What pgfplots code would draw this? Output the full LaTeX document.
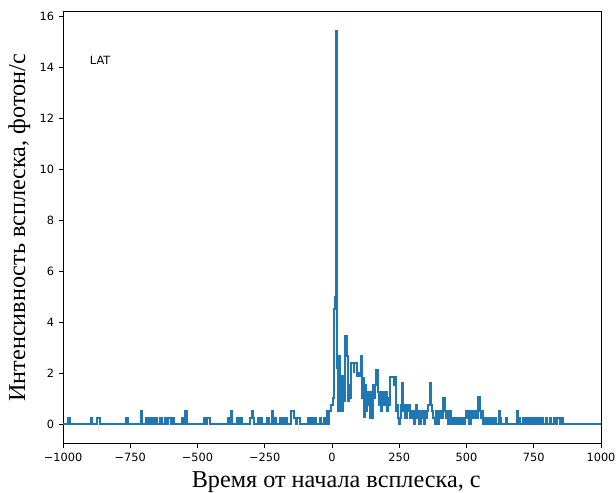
\documentclass[border=0pt]{standalone}
\usepackage{pgfplots}
\pgfplotsset{compat=1.18}
\usepackage{fontspec}
\setmainfont{Liberation Serif}
\newfontfamily\dejavu{DejaVu Sans}
\usetikzlibrary{calc}
\definecolor{tabblue}{HTML}{1F77B4}
\begin{document}
\begin{tikzpicture}
\begin{axis}[
  scale only axis, width=387.4bp, height=311bp,
  xmin=-1000, xmax=1000, ymin=-0.77, ymax=16.17,
  axis line style={line width=0.63bp},
  tick align=outside, major tick length=2.9bp,
  every tick/.style={black, line width=0.63bp},
  xtick={-1000,-750,-500,-250,0,250,500,750,1000},
  xticklabels={−1000,−750,−500,−250,0,250,500,750,1000},
  ytick={0,2,4,6,8,10,12,14,16},
  xtick pos=bottom, ytick pos=left,
  ticklabel style={font=\dejavu\fontsize{8.2}{9.8}\selectfont},
  /pgf/number format/assume math mode=true,
  xlabel={Время от начала всплеска, с},
  ylabel={Интенсивность всплеска, фотон/с},
  label style={font=\fontsize{17.5}{21}\selectfont},
  xlabel style={at={(axis description cs:0.5,0)}, anchor=base, yshift=-31.7bp, xshift=3bp},
  ylabel style={at={(axis description cs:-0.0707,0.5)}, anchor=base, rotate=0},
]
\addplot[const plot, color=tabblue, line width=1.45bp] coordinates {
(-1000,0) (-980,0.26) (-976,0) (-896,0.26) (-892,0) (-872,0.26) (-864,0) (-766,0.26) (-758,0)
(-712,0.51) (-708,0) (-693,0.26) (-689,0) (-682,0.26) (-674,0) (-666,0.26) (-662,0) (-655,0.26) (-651,0)
(-640,0.26) (-632,0) (-622,0.26) (-614,0) (-608,0.26) (-600,0) (-592,0.26) (-586,0) (-556,0.26) (-552,0)
(-545,0.51) (-541,0) (-476,0.26) (-468,0) (-464,0.26) (-454,0)
(-388,0.26) (-384,0) (-376,0.51) (-372,0) (-354,0.26) (-346,0) (-342,0.26) (-336,0) (-306,0.26) (-298,0.51)
(-294,0.26) (-290,0) (-276,0.26) (-272,0) (-268,0.26) (-260,0) (-243,0.26) (-235,0) (-224,0.51) (-220,0)
(-213,0.26) (-209,0) (-194,0.26) (-186,0) (-180,0.26) (-176,0) (-172,0.26) (-166,0) (-153,0.51) (-142,0.26)
(-134,0) (-130,0.26) (-120,0) (-90,0.26) (-82,0) (-78,0.26) (-72,0) (-64,0.26) (-60,0) (-44,0.26) (-40,0)
(-30,0.26) (-26,0)
(-20,0.51) (-16,0) (-12,0.51) (-2,0.77) (2,1.03) (6,4.5) (10,5.0) (13,15.42) (17,2.68) (20,2.2) (23,0.51)
(26,2.68) (30,0.51) (33,1.9) (37,0.51) (40,1.9) (43,1.28) (46,0.9) (49,3.47) (55,2.68) (58,0.9) (62,1.54)
(66,1.03) (69,1.54) (72,2.4) (80,2.06) (83,2.4) (94,1.9) (98,2.0) (102,1.9) (106,2.68) (112,1.03) (116,1.8)
(119,0.3) (122,1.54) (126,0.51) (129,1.28) (133,0.77) (137,1.28) (141,0.26) (145,1.28) (149,0.26) (151,1.54)
(155,1.03) (159,1.54) (163,2.13) (170,1.28) (174,0.77) (178,1.28) (182,0.51) (185,1.03) (189,1.28) (193,0.77)
(197,1.03) (201,1.28) (205,0.51) (209,1.03) (213,0.77) (217,1.85) (230,1.54) (234,1.85) (238,0.51) (242,0.77)
(246,0.26) (250,0) (254,0.26) (258,0.77) (261,1.6) (265,0.51) (269,0.77) (273,0.26) (277,0.77) (281,0.51)
(285,0.77) (289,0.26) (293,0.51) (297,0.26) (301,0.51) (305,0) (309,0.51) (313,0.77) (317,0.26) (321,0.51)
(325,0) (329,0.51) (333,0.26) (337,0.51) (341,0) (345,0.51) (349,0.26) (353,0.51) (357,0.77) (363,1.6)
(369,0.77) (373,0.51) (377,0.26) (381,0) (385,0.51) (389,0.26) (393,0) (397,0.51) (401,0.26) (405,0.51)
(409,0.26) (413,1.03) (419,0.51) (423,0.26) (427,0.51) (431,0) (435,0.26) (439,0.51) (443,0) (447,0.26)
(451,0) (459,0.26) (463,0) (471,0.26) (475,0) (483,0.26) (487,0) (495,0.26) (499,0.51) (503,0.26) (507,0.51)
(511,0) (515,0.51) (519,0.26) (523,0.51) (527,0.26) (531,0.51) (539,0.26) (543,1.05) (549,0.51) (553,0.26)
(557,0.51) (561,0) (565,0.26) (569,0) (575,0.26) (579,0) (585,0.26) (589,0) (595,0.26) (599,0) (605,0.26)
(609,0) (619,0.51) (625,0.26) (629,0) (645,0.26) (649,0) (687,0.51) (693,0.26) (697,0) (709,0.26) (713,0)
(723,0.26) (727,0) (737,0.26) (741,0) (747,0.26) (751,0) (757,0.26) (761,0) (770,0.26) (774,0) (780,0.26)
(784,0) (795,0.26) (799,0) (810,0.26) (814,0) (825,0.26) (829,0) (838,0.26) (846,0) (850,0.26) (858,0) (1000,0)
};
\node[anchor=west, font=\dejavu\fontsize{8.2}{9.8}\selectfont] at (rel axis cs:0.041,0.889) {LAT};
\end{axis}
\pgfresetboundingbox
\useasboundingbox ($(current axis.south west)+(-45.4bp,-35.3bp)$) rectangle ($(current axis.north east)+(10.8bp,8.6bp)$);
\end{tikzpicture}
\end{document}
